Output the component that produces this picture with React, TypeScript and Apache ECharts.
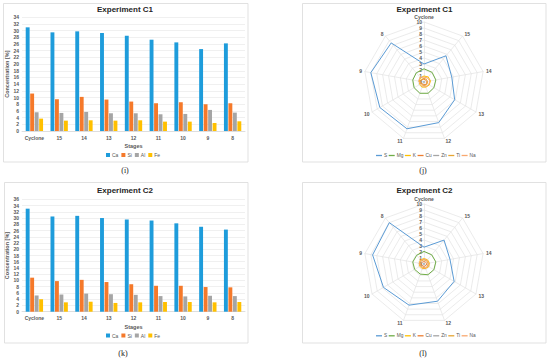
import React, { useEffect, useRef } from "react";
import * as echarts from "echarts";

const stages = ["Cyclone", "15", "14", "13", "12", "11", "10", "9", "8"];
const barElements = ["Ca", "Si", "Al", "Fe"];
const c1Ca = [31.0, 29.5, 29.8, 29.3, 28.5, 27.3, 26.5, 24.5, 26.2];
const c1Si = [11.2, 9.5, 10.2, 9.4, 8.8, 8.3, 8.6, 8.0, 8.3];
const c1Al = [5.6, 5.4, 5.7, 5.3, 5.3, 5.0, 5.1, 6.3, 5.5];
const c1Fe = [3.7, 3.1, 3.2, 3.1, 3.2, 2.8, 2.8, 2.4, 2.9];
const c2Ca = [33.0, 30.5, 30.7, 30.0, 29.5, 29.2, 28.3, 27.2, 26.3];
const c2Si = [10.9, 9.8, 10.2, 9.5, 8.8, 8.3, 8.3, 7.9, 7.8];
const c2Al = [5.2, 5.5, 5.8, 5.6, 5.4, 5.0, 4.9, 5.1, 5.0];
const c2Fe = [4.0, 3.0, 3.2, 2.8, 3.0, 3.1, 3.1, 3.0, 3.1];

const radarElements = ["S", "Mg", "K", "Cu", "Zn", "Ti", "Na"];
const c1S = [3.0, 5.7, 4.7, 5.9, 7.2, 8.3, 8.5, 9.0, 8.5];
const c1Mg = [2.2, 2.1, 2.0, 1.9, 2.0, 2.0, 1.9, 1.9, 2.0];
const c1K = [1.0, 1.1, 1.1, 1.0, 0.9, 0.9, 0.8, 0.8, 0.9];
const c1Cu = [0.5, 0.4, 0.5, 0.5, 0.5, 0.4, 0.5, 0.6, 0.5];
const c1Zn = [0.1, 0.1, 0.1, 0.1, 0.1, 0.1, 0.1, 0.1, 0.1];
const c1Ti = [0.6, 0.6, 0.6, 0.6, 0.6, 0.6, 0.5, 0.6, 0.6];
const c1Na = [0.8, 0.9, 1.0, 0.9, 0.8, 0.7, 0.7, 0.9, 1.0];
const c2S = [2.8, 5.2, 4.4, 5.8, 6.6, 7.3, 7.8, 8.7, 9.0];
const c2Mg = [2.1, 2.0, 2.0, 1.9, 1.9, 1.8, 1.8, 1.9, 1.9];
const c2K = [0.9, 0.9, 0.9, 0.9, 0.8, 0.8, 0.8, 0.8, 0.9];
const c2Cu = [0.4, 0.4, 0.5, 0.4, 0.4, 0.4, 0.4, 0.5, 0.4];
const c2Zn = [0.1, 0.1, 0.1, 0.1, 0.1, 0.1, 0.1, 0.1, 0.1];
const c2Ti = [0.7, 0.7, 0.7, 0.7, 0.7, 0.6, 0.6, 0.7, 0.7];
const c2Na = [0.8, 0.8, 0.8, 0.8, 0.7, 0.7, 0.7, 0.8, 0.8];

const radarTicks = ["0", "1", "2", "3", "4", "5", "6", "7", "8", "9", "10"];

const barColors = ["#1E9CDB", "#F5792A", "#A5A5A5", "#FFC000"];
const radarColors = ["#5B9BD5", "#70AD47", "#FFC000", "#ED7D31", "#A5A5A5", "#E6A532", "#F8A870"];

const FONT = "Liberation Sans";
const TXT = "#595959";

// radar draws indicators counter-clockwise; reorder so stages go clockwise
const reorder = <T,>(arr: T[]): T[] => [arr[0], ...arr.slice(1).reverse()];

function barPanel(idx: number, top: number, height: number, max: number, data: number[][]) {
  const grid = { left: 22, width: 223, top, height, containLabel: false };
  const xAxis = {
    type: "category",
    gridIndex: idx,
    data: stages,
    name: "Stages",
    nameLocation: "middle",
    nameGap: 12,
    nameTextStyle: { fontSize: 5.5, fontWeight: "bold", color: TXT, fontFamily: FONT },
    axisTick: { show: false },
    axisLine: { lineStyle: { color: "#D9D9D9", width: 0.8 } },
    axisLabel: { interval: 0, fontSize: 5, color: TXT, fontWeight: "bold", fontFamily: FONT, margin: 4 },
  };
  const yAxis = {
    type: "value",
    gridIndex: idx,
    min: 0,
    max,
    interval: 2,
    name: "Concentration [%]",
    nameLocation: "middle",
    nameGap: 10,
    nameTextStyle: { fontSize: 5.5, fontWeight: "bold", color: TXT, fontFamily: FONT },
    axisLine: { show: false },
    axisTick: { show: false },
    axisLabel: { fontSize: 5, color: TXT, fontWeight: "bold", fontFamily: FONT, margin: 3 },
    splitLine: { lineStyle: { color: "#E6E6E6", width: 0.6 } },
  };
  const series = data.map((d, i) => ({
    type: "bar",
    name: barElements[i],
    xAxisIndex: idx,
    yAxisIndex: idx,
    data: d,
    barGap: "15%",
    barCategoryGap: "30%",
    itemStyle: { color: barColors[i] },
  }));
  return { grid, xAxis, yAxis, series };
}

function radarPanel(idx: number, center: number[], data: number[][]) {
  const names = reorder(stages);
  const radar = {
    center,
    radius: 60,
    startAngle: 90,
    splitNumber: 10,
    shape: "polygon",
    indicator: names.map((n, i) => ({
      name: n,
      min: 0,
      max: 10,
      ...(i === 0
        ? {
            axisLabel: {
              show: true,
              fontSize: 5,
              color: TXT,
              fontWeight: "bold",
              fontFamily: FONT,
              margin: 2,
              formatter: (v: number) => radarTicks[Math.round(v)] ?? String(v),
            },
          }
        : {}),
    })),
    axisName: { color: TXT, fontSize: 5, fontWeight: "bold", fontFamily: FONT },
    nameGap: 3,
    splitArea: { show: false },
    splitLine: { lineStyle: { color: "#E3E3E3", width: 0.7 } },
    axisLine: { lineStyle: { color: "#E3E3E3", width: 0.7 } },
    axisTick: { show: false },
    axisLabel: { show: false },
  };
  const series = {
    type: "radar",
    radarIndex: idx,
    symbol: "none",
    data: data.map((d, i) => ({
      name: radarElements[i],
      value: reorder(d),
      lineStyle: { color: radarColors[i], width: 1 },
      itemStyle: { color: radarColors[i] },
    })),
  };
  return { radar, series };
}

export default function App() {
  const ref = useRef<HTMLDivElement>(null);
  useEffect(() => {
    if (!ref.current) return;
    const chart = echarts.init(ref.current, null, { renderer: "svg" });
    const b1 = barPanel(0, 17.3, 113.7, 34, [c1Ca, c1Si, c1Al, c1Fe]);
    const b2 = barPanel(1, 199.3, 112.4, 36, [c2Ca, c2Si, c2Al, c2Fe]);
    const r1 = radarPanel(0, [424, 82], [c1S, c1Mg, c1K, c1Cu, c1Zn, c1Ti, c1Na]);
    const r2 = radarPanel(1, [424, 264], [c2S, c2Mg, c2K, c2Cu, c2Zn, c2Ti, c2Na]);

    const panelRect = (x: number, y: number, w: number, h: number) => ({
      type: "rect",
      shape: { x, y, width: w, height: h },
      style: { fill: "#fff", stroke: "#D9D9D9", lineWidth: 0.8 },
      z: -10,
      silent: true,
    });
    const titleText = (x: number, y: number, t: string) => ({
      type: "text",
      x,
      y,
      style: {
        text: t,
        fill: "#262626",
        font: `bold 8px "${FONT}"`,
        textAlign: "center",
        textVerticalAlign: "middle",
      },
      z: 10,
    });
    const caption = (x: number, y: number, t: string) => ({
      type: "text",
      x,
      y,
      style: {
        text: t,
        fill: "#222",
        font: `8px "Liberation Serif"`,
        textAlign: "center",
        textVerticalAlign: "middle",
      },
      z: 10,
    });

    const barLegend = (top: number) => ({
      data: barElements,
      left: 106,
      top,
      padding: 0,
      itemWidth: 4,
      itemHeight: 4,
      itemGap: 3,
      icon: "rect",
      textStyle: { fontSize: 5, color: TXT, fontFamily: FONT, padding: [0, 0, 0, -3] },
      selectedMode: false,
    });
    const radarLegend = (top: number) => ({
      data: radarElements,
      left: 376,
      top,
      padding: 0,
      itemWidth: 6,
      itemHeight: 1.3,
      itemGap: 1.5,
      icon: "rect",
      textStyle: { fontSize: 4.8, color: TXT, fontFamily: FONT, padding: [0, 0, 0, -3] },
      selectedMode: false,
    });

    chart.setOption({
      animation: false,
      backgroundColor: "#fff",
      grid: [b1.grid, b2.grid],
      xAxis: [b1.xAxis, b2.xAxis],
      yAxis: [b1.yAxis, b2.yAxis],
      radar: [r1.radar, r2.radar],
      legend: [barLegend(152.5), barLegend(333), radarLegend(153), radarLegend(333.3)],
      series: [...b1.series, ...b2.series, r1.series, r2.series],
      graphic: [
        panelRect(3.5, 3.5, 244.5, 158.5),
        panelRect(302.5, 3.5, 243.5, 158.5),
        panelRect(4.5, 182.5, 243.5, 160.5),
        panelRect(302.5, 182.5, 243.5, 160.5),
        titleText(125, 9.5, "Experiment C1"),
        titleText(424.5, 9.5, "Experiment C1"),
        titleText(125, 190.5, "Experiment C2"),
        titleText(424.5, 190.5, "Experiment C2"),
        caption(125, 170.5, "(i)"),
        caption(423, 170.5, "(j)"),
        caption(123, 353, "(k)"),
        caption(423, 353, "(l)"),
      ],
    });
    return () => chart.dispose();
  }, []);
  return (
    <div
      ref={ref}
      style={{ position: "fixed", left: 0, top: 0, width: 550, height: 361, background: "#fff" }}
    />
  );
}
